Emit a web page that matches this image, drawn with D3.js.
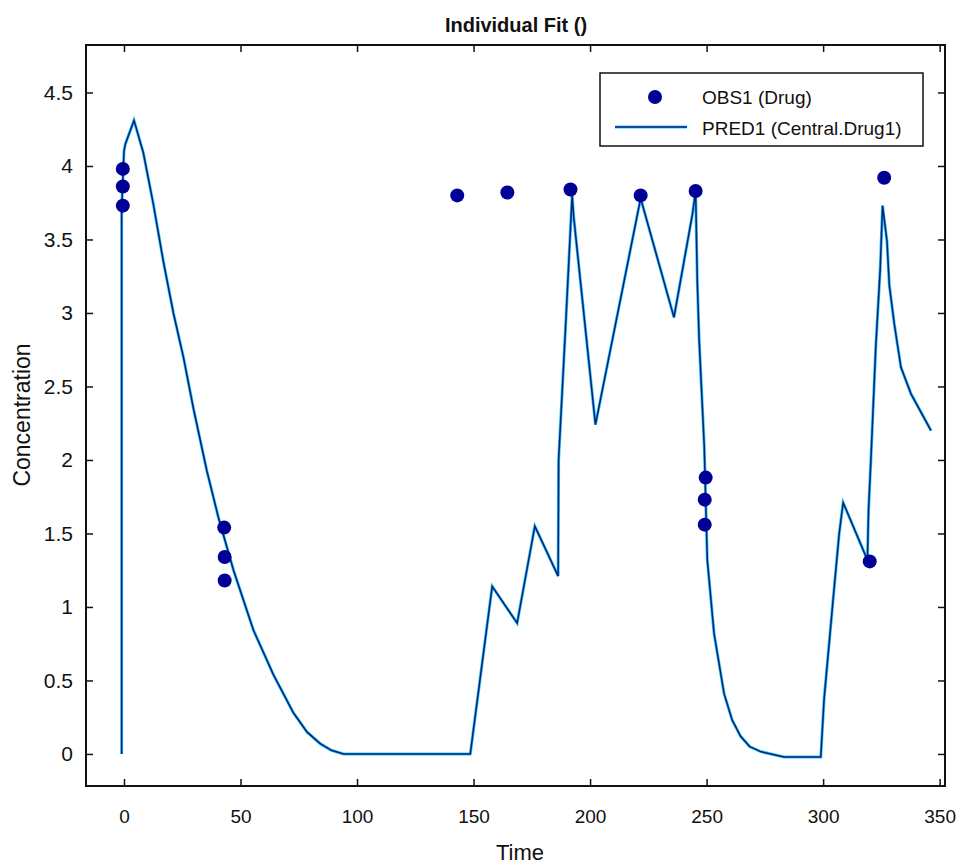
<!DOCTYPE html>
<html lang="en">
	<head>
		<meta charset="utf-8">
		<title>Individual Fit</title>
		<script type="text/javascript" src="https://cdn.jsdelivr.net/npm/d3@7"></script>
		<style type="text/css">
			body { margin: 0; background: #fff; }
			text { font-family: "Liberation Sans", Arial, sans-serif; }
		</style>
	</head>
	<body>
		<script type="text/javascript">
			var w = 960;
			var h = 864;

			// observed concentrations
			var obsTime = [-0.5, -0.5, -0.5, 43, 43.2, 43.2, 143, 164.5, 191.6, 221.7, 245.3, 249.6, 249.2, 249.2, 320, 326.2];
			var obsConc = [3.98, 3.86, 3.73, 1.54, 1.34, 1.18, 3.80, 3.82, 3.84, 3.80, 3.83, 1.88, 1.73, 1.56, 1.31, 3.92];

			// predicted curve
			var predTime = [-1, -1, 0, 0.6, 4.3, 8.3, 12.6, 16.9, 21.2, 25.5, 29.8, 35.5, 40.5, 47, 55.6, 64.1, 72.7, 78.5, 84.2, 89, 94.2,
				148.6, 158, 168.7, 176.3, 186.3, 186.5, 189.5, 192.3, 193, 202.3, 221.7, 236, 243.9, 245.3, 246, 246.8, 249,
				250.3, 253.2, 257.5, 261, 264.6, 268.5, 273.2, 283.2, 299, 300.4, 304, 306.9, 308.6, 319, 319.5, 320.5, 322.6, 324.5, 325.5,
				327.4, 328.4, 330.5, 333.4, 337.7, 346.3];
			var predConc = [0, 3.7, 4.1, 4.15, 4.31, 4.09, 3.74, 3.35, 3.0, 2.70, 2.35, 1.93, 1.61, 1.25, 0.84, 0.54, 0.28, 0.15, 0.07, 0.025, 0.0,
				0, 1.14, 0.89, 1.55, 1.21, 2.0, 2.91, 3.8, 3.65, 2.24, 3.78, 2.97, 3.67, 3.83, 3.22, 2.82, 2.09,
				1.32, 0.82, 0.41, 0.23, 0.12, 0.05, 0.016, -0.02, -0.02, 0.37, 1.0, 1.5, 1.71, 1.32, 1.66, 2.0, 2.77, 3.30, 3.73,
				3.49, 3.19, 2.93, 2.63, 2.45, 2.20];

			var xTicks = [0, 50, 100, 150, 200, 250, 300, 350];
			var yTicks = [0, 0.5, 1, 1.5, 2, 2.5, 3, 3.5, 4, 4.5];

			var pLeft = 86, pRight = 945, pTop = 45, pBottom = 786;

			var svg = d3.select("body")
				.append("svg")
				.attr("width", w)
				.attr("height", h);

			var x = d3.scaleLinear().domain([-16.3, 352.3]).range([pLeft, pRight]);
			var y = d3.scaleLinear().domain([-0.218, 4.823]).range([pBottom, pTop]);

			// axes, ticks pointing inwards on all four sides
			var xAxis = svg.append("g")
				.attr("transform", "translate(0," + pBottom + ")")
				.call(d3.axisBottom(x).tickValues(xTicks).tickSize(-7).tickPadding(24).tickFormat(d3.format("d")));
			svg.append("g")
				.attr("transform", "translate(0," + pTop + ")")
				.call(d3.axisTop(x).tickValues(xTicks).tickSize(-7).tickFormat(""));
			var yAxis = svg.append("g")
				.attr("transform", "translate(" + pLeft + ",0)")
				.call(d3.axisLeft(y).tickValues(yTicks).tickSize(-7).tickPadding(13).tickFormat(d3.format("")));
			svg.append("g")
				.attr("transform", "translate(" + pRight + ",0)")
				.call(d3.axisRight(y).tickValues(yTicks).tickSize(-7).tickFormat(""));

			svg.selectAll(".domain").remove();
			svg.selectAll(".tick line").attr("stroke", "#111").attr("stroke-width", 1.5);

			xAxis.selectAll("text")
				.attr("font-size", "19px")
				.attr("fill", "#111");
			yAxis.selectAll("text")
				.attr("font-size", "21px")
				.attr("fill", "#111");

			svg.append("rect")
				.attr("x", pLeft)
				.attr("y", pTop)
				.attr("width", pRight - pLeft)
				.attr("height", pBottom - pTop)
				.attr("fill", "none")
				.attr("stroke", "#111")
				.attr("stroke-width", 2);

			// prediction line
			var pred = predTime.map(function(t, i) { return [t, predConc[i]]; });
			var line = d3.line()
				.x(function(d) { return x(d[0]); })
				.y(function(d) { return y(d[1]); });

			svg.append("path")
				.datum(pred)
				.attr("d", line)
				.attr("fill", "none")
				.attr("stroke", "#2ec8f5")
				.attr("stroke-width", 3);
			svg.append("path")
				.datum(pred)
				.attr("d", line)
				.attr("fill", "none")
				.attr("stroke", "#0b1f78")
				.attr("stroke-width", 1.5);

			// observations
			svg.selectAll("circle.obs")
				.data(obsTime)
				.enter()
				.append("circle")
				.attr("class", "obs")
				.attr("cx", function(d) { return x(d); })
				.attr("cy", function(d, i) { return y(obsConc[i]); })
				.attr("r", 7)
				.attr("fill", "#000096");

			// titles
			svg.append("text")
				.attr("x", 516)
				.attr("y", 32)
				.attr("text-anchor", "middle")
				.attr("font-size", "20px")
				.attr("font-weight", "bold")
				.attr("fill", "#111")
				.text("Individual Fit ()");

			svg.append("text")
				.attr("x", 520)
				.attr("y", 860)
				.attr("text-anchor", "middle")
				.attr("font-size", "22px")
				.attr("fill", "#111")
				.text("Time");

			svg.append("text")
				.attr("transform", "translate(30,415) rotate(-90)")
				.attr("text-anchor", "middle")
				.attr("font-size", "23px")
				.attr("fill", "#111")
				.text("Concentration");

			// legend
			var legend = svg.append("g");
			legend.append("rect")
				.attr("x", 600)
				.attr("y", 73)
				.attr("width", 323)
				.attr("height", 73)
				.attr("fill", "#fff")
				.attr("stroke", "#111")
				.attr("stroke-width", 1.5);
			legend.append("circle")
				.attr("cx", 655)
				.attr("cy", 97)
				.attr("r", 7)
				.attr("fill", "#000096");
			legend.append("line")
				.attr("x1", 615).attr("x2", 687)
				.attr("y1", 127).attr("y2", 127)
				.attr("stroke", "#2ec8f5")
				.attr("stroke-width", 3);
			legend.append("line")
				.attr("x1", 615).attr("x2", 687)
				.attr("y1", 127).attr("y2", 127)
				.attr("stroke", "#0b1f78")
				.attr("stroke-width", 1.5);
			legend.append("text")
				.attr("x", 702)
				.attr("y", 104)
				.attr("font-size", "19px")
				.attr("fill", "#111")
				.text("OBS1 (Drug)");
			legend.append("text")
				.attr("x", 702)
				.attr("y", 135)
				.attr("font-size", "19px")
				.attr("fill", "#111")
				.text("PRED1 (Central.Drug1)");
		</script>
	</body>
</html>
